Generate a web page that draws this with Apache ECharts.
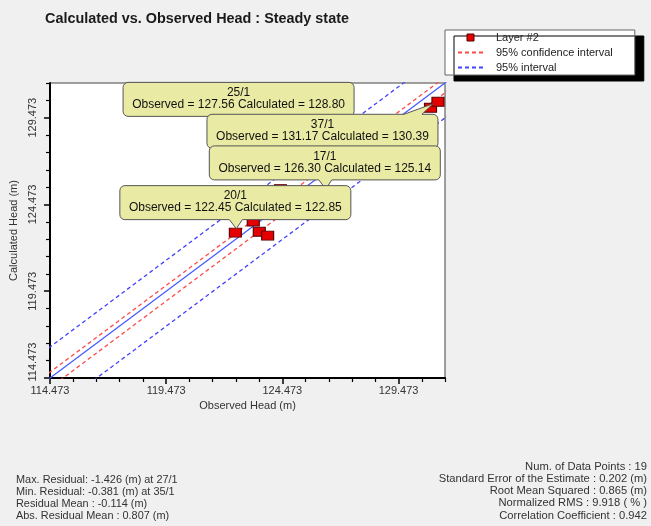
<!DOCTYPE html>
<html><head><meta charset="utf-8">
<script src="https://cdn.jsdelivr.net/npm/echarts@6/dist/echarts.min.js"></script>
<style>html,body{margin:0;padding:0;background:#f0f0f0}#c{width:651px;height:526px}</style>
</head><body><div id="c"></div>
<script>
// ---- data ----
const titleText = 'Calculated vs. Observed Head : Steady state';
const seriesName = 'Layer #2';
const observedHead   = [122.45, 123.22, 123.48, 123.84, 124.39, 126.30, 127.56, 130.85, 131.17];
const calculatedHead = [122.85, 123.49, 122.90, 122.68, 125.36, 125.14, 128.80, 130.05, 130.39];

const calloutIds        = ['25/1', '37/1', '17/1', '20/1'];
const calloutObserved   = [127.56, 131.17, 126.30, 122.45];
const calloutCalculated = [128.80, 130.39, 125.14, 122.85];

const axisMin = 114.473, axisMax = 131.473;
const majorTicks = [114.473, 119.473, 124.473, 129.473];
const minorTicks = [115.473, 116.473, 117.473, 118.473, 120.473, 121.473, 122.473, 123.473,
                    125.473, 126.473, 127.473, 128.473, 130.473, 131.473];

const residualMean = -0.114;     // centre of the bands
const confidenceHalf = 0.45;     // 95% confidence interval half-width
const intervalHalf = 1.9;        // 95% interval half-width
const lineEnds = [105, 140];

const leftStats = [
  'Max. Residual: -1.426 (m) at 27/1',
  'Min. Residual: -0.381 (m) at 35/1',
  'Residual Mean : -0.114 (m)',
  'Abs. Residual Mean : 0.807 (m)'
];
const rightStats = [
  'Num. of Data Points : 19',
  'Standard Error of the Estimate : 0.202 (m)',
  'Root Mean Squared : 0.865 (m)',
  'Normalized RMS : 9.918 ( % )',
  'Correlation Coefficient : 0.942'
];

// ---- styles / layout ----
const FONT = 'Liberation Sans, Arial, sans-serif';
const calloutPlacement = ['aboveLeft', 'belowLeft', 'above', 'above'];

const lineData = off => lineEnds.map(v => [v, v + off]);

function roundedPoly(x0, y0, x1, y1, r, ptr) {
  const pts = [];
  const arc = (cx, cy, a0, a1) => {
    for (let k = 0; k <= 4; k++) {
      const a = a0 + (a1 - a0) * k / 4;
      pts.push([cx + r * Math.cos(a), cy + r * Math.sin(a)]);
    }
  };
  arc(x0 + r, y0 + r, Math.PI, 1.5 * Math.PI);
  if (ptr.edge === 'top') { pts.push([ptr.b1, y0], [ptr.tx, ptr.ty], [ptr.b2, y0]); }
  arc(x1 - r, y0 + r, 1.5 * Math.PI, 2 * Math.PI);
  arc(x1 - r, y1 - r, 0, 0.5 * Math.PI);
  if (ptr.edge === 'bottom') { pts.push([ptr.b2, y1], [ptr.tx, ptr.ty], [ptr.b1, y1]); }
  arc(x0 + r, y1 - r, 0.5 * Math.PI, Math.PI);
  return pts;
}

function renderCallout(params, api) {
  const i = params.dataIndex;
  const p = api.coord([api.value(0), api.value(1)]);
  const W = 231, H = 34, G = 13, R = 5;
  let x0, y0, ptr;
  const mode = calloutPlacement[i];
  if (mode === 'above') {
    x0 = p[0] - W / 2; y0 = p[1] - G - H;
    ptr = { edge: 'bottom', b1: p[0] - 6, b2: p[0] + 7, tx: p[0] + 1, ty: p[1] - 4 };
  } else if (mode === 'aboveLeft') {
    x0 = p[0] - W; y0 = p[1] - G - H;
    ptr = { edge: 'bottom', b1: x0 + W - 30, b2: x0 + W - 14, tx: p[0] - 3, ty: p[1] - 3 };
  } else {
    x0 = p[0] - W; y0 = p[1] + 12.5;
    ptr = { edge: 'top', b1: x0 + W - 34, b2: x0 + W - 16, tx: p[0] - 5, ty: p[1] + 2 };
  }
  const txt = calloutIds[i] + '\nObserved = ' + api.value(0).toFixed(2) +
              ' Calculated = ' + api.value(1).toFixed(2);
  return {
    type: 'group',
    children: [
      { type: 'polygon', shape: { points: roundedPoly(x0, y0, x0 + W, y0 + H, R, ptr) },
        style: { fill: '#e9eba4', stroke: '#555', lineWidth: 1 } },
      { type: 'text', style: { text: txt, x: x0 + W / 2, y: y0 + H / 2 - 0.5,
          align: 'center', verticalAlign: 'middle', fontSize: 12, fontFamily: FONT,
          lineHeight: 12, fill: '#111' } }
    ]
  };
}

const chart = echarts.init(document.getElementById('c'), null, { renderer: 'canvas' });

const fmt = v => Number(v).toFixed(3);
const commonAxis = { type: 'value', min: axisMin, max: axisMax, splitLine: { show: false } };

const statGraphics = [];
leftStats.forEach((s, i) => statGraphics.push({
  type: 'text', left: 16, top: 474 + i * 12, silent: true,
  style: { text: s, fontSize: 10.9, fontFamily: FONT, fill: '#333' }
}));
rightStats.forEach((s, i) => statGraphics.push({
  type: 'text', right: 4, top: 461 + i * 12.25, silent: true,
  style: { text: s, fontSize: 11.2, fontFamily: FONT, fill: '#333' }
}));

chart.setOption({
  animation: false,
  backgroundColor: '#f0f0f0',
  title: {
    text: titleText, left: 45, top: 12, padding: 0,
    textStyle: { fontSize: 14.4, fontWeight: 'bold', fontFamily: FONT, color: '#1a1a1a' }
  },
  legend: {
    orient: 'vertical', left: 445, top: 30,
    padding: [1, 22, 1, 12],
    itemWidth: 25, itemHeight: 7, itemGap: 2,
    symbolKeepAspect: true,
    backgroundColor: '#fff', borderColor: '#666', borderWidth: 1,
    shadowColor: '#000', shadowBlur: 0, shadowOffsetX: 9, shadowOffsetY: 6,
    textStyle: { fontSize: 11, fontFamily: FONT, color: '#222', lineHeight: 13, padding: [0, 0, 0, 8] },
    data: [
      { name: seriesName, icon: 'path://M0,0h7v7h-7z',
        itemStyle: { color: '#e50000', borderColor: '#5a0000', borderWidth: 1 } },
      { name: '95% confidence interval', itemStyle: { opacity: 0 } },
      { name: '95% interval', itemStyle: { opacity: 0 } }
    ],
    selectedMode: false
  },
  grid: {
    left: 50, top: 83, width: 395, height: 295,
    show: true, backgroundColor: '#fff', borderColor: '#444', borderWidth: 1
  },
  xAxis: [
    Object.assign({}, commonAxis, {
      position: 'bottom',
      name: 'Observed Head (m)', nameLocation: 'middle', nameGap: 20,
      nameTextStyle: { fontSize: 11, fontFamily: FONT, color: '#333' },
      axisLine: { show: true, lineStyle: { color: '#000', width: 2 } },
      axisTick: { show: true, length: 6, customValues: majorTicks, lineStyle: { color: '#000', width: 1.5 } },
      axisLabel: { customValues: majorTicks, formatter: fmt, fontSize: 11, fontFamily: FONT, color: '#333', margin: 7 }
    }),
    Object.assign({}, commonAxis, {
      position: 'bottom',
      axisLine: { show: false },
      axisTick: { show: true, length: 4, customValues: minorTicks, lineStyle: { color: '#000', width: 1.2 } },
      axisLabel: { show: false }
    })
  ],
  yAxis: [
    Object.assign({}, commonAxis, {
      position: 'left',
      name: 'Calculated Head (m)', nameLocation: 'middle', nameGap: 29,
      nameTextStyle: { fontSize: 11, fontFamily: FONT, color: '#333' },
      axisLine: { show: true, lineStyle: { color: '#000', width: 2 } },
      axisTick: { show: true, length: 6, customValues: majorTicks, lineStyle: { color: '#000', width: 1.5 } },
      axisLabel: {
        customValues: majorTicks, rotate: 90, margin: 12,
        fontSize: 11, fontFamily: FONT, color: '#333',
        formatter: v => (Math.abs(v - axisMin) < 1e-6 ? '{lo|' + fmt(v) + '}' : fmt(v)),
        rich: { lo: { fontSize: 11, fontFamily: FONT, color: '#333', padding: [0, 0, 0, 32] } }
      }
    }),
    Object.assign({}, commonAxis, {
      position: 'left',
      axisLine: { show: false },
      axisTick: { show: true, length: 4, customValues: minorTicks, lineStyle: { color: '#000', width: 1.2 } },
      axisLabel: { show: false }
    })
  ],
  series: [
    { name: 'fit', type: 'line', data: lineData(0), symbol: 'none', silent: true, z: 2,
      lineStyle: { color: '#4659ff', width: 1.3 } },
    { name: '95% confidence interval', type: 'line', data: lineData(residualMean + confidenceHalf),
      symbol: 'none', silent: true, z: 2, itemStyle: { color: '#ff4a4a' },
      lineStyle: { color: '#ff4a4a', width: 1.3, type: [4, 3] } },
    { name: '95% confidence interval', type: 'line', data: lineData(residualMean - confidenceHalf),
      symbol: 'none', silent: true, z: 2, itemStyle: { color: '#ff4a4a' },
      lineStyle: { color: '#ff4a4a', width: 1.3, type: [4, 3] } },
    { name: '95% interval', type: 'line', data: lineData(residualMean + intervalHalf),
      symbol: 'none', silent: true, z: 2, itemStyle: { color: '#4242ff' },
      lineStyle: { color: '#4242ff', width: 1.3, type: [4, 3] } },
    { name: '95% interval', type: 'line', data: lineData(residualMean - intervalHalf),
      symbol: 'none', silent: true, z: 2, itemStyle: { color: '#4242ff' },
      lineStyle: { color: '#4242ff', width: 1.3, type: [4, 3] } },
    { name: seriesName, type: 'scatter', z: 3,
      data: observedHead.map((o, i) => [o, calculatedHead[i]]),
      symbol: 'rect', symbolSize: [12, 9],
      itemStyle: { color: '#e50000', borderColor: '#5a0000', borderWidth: 1, opacity: 1 } },
    { name: 'callouts', type: 'custom', z: 10, silent: true, clip: false,
      data: calloutObserved.map((o, i) => [o, calloutCalculated[i]]),
      encode: { x: 0, y: 1 },
      renderItem: renderCallout }
  ],
  graphic: statGraphics
});
</script></body></html>
